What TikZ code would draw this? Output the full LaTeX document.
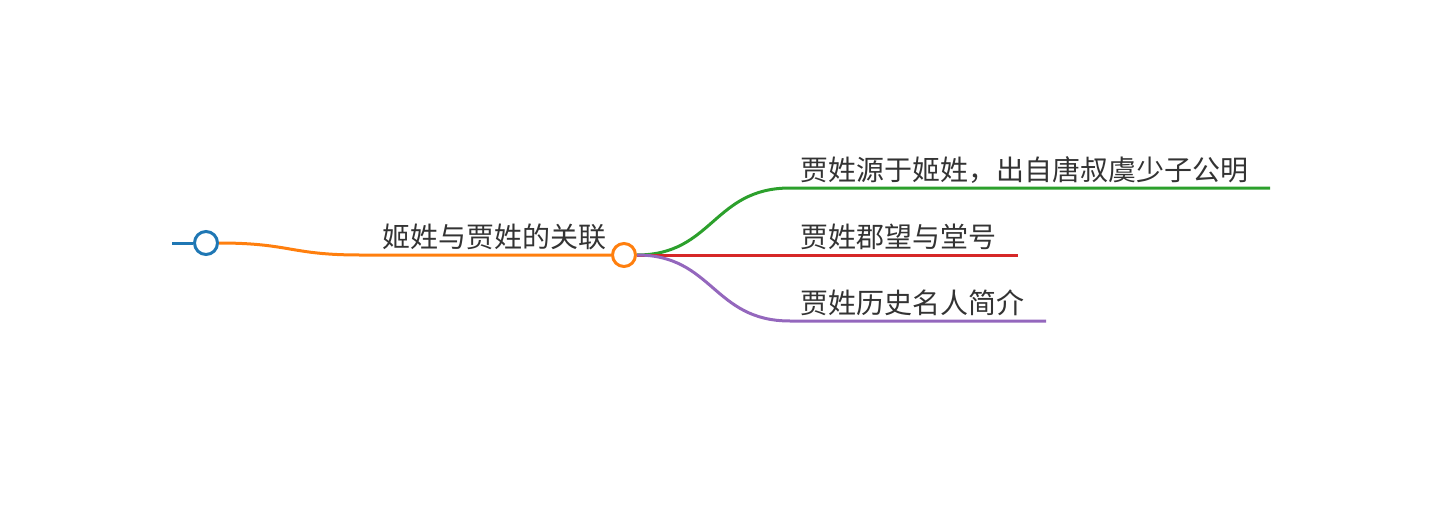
\documentclass[tikz,border=0pt]{standalone}
\usepackage{fontspec}
\setmainfont{Noto Sans CJK SC}
\definecolor{mmblue}{HTML}{1F77B4}
\definecolor{mmorange}{HTML}{FF7F0E}
\definecolor{mmgreen}{HTML}{2CA02C}
\definecolor{mmred}{HTML}{D62728}
\definecolor{mmpurple}{HTML}{9467BD}
\definecolor{inkgray}{HTML}{333333}
\begin{document}
\begin{tikzpicture}[x=1pt,y=-1pt,
  branch/.style={line width=3pt},
  knob/.style={circle,draw,fill=white,line width=3pt,minimum size=23pt,inner sep=0pt},
  caption/.style={anchor=west,inner sep=0pt,text=inkgray,font=\fontsize{28pt}{32pt}\selectfont}]
  \useasboundingbox (0,0) rectangle (1440,511);

  \node[knob,draw=mmblue] (rootknob) at (206,243) {};
  \node[knob,draw=mmorange] (mainknob) at (624,255) {};
  \coordinate (stub) at (172,243);
  \coordinate (mainbend) at (360,255);
  \node[caption] (main) at (382,237) {姬姓与贾姓的关联};

  \draw[branch,mmblue] (stub) -- (rootknob.west);
  \draw[branch,mmorange] (rootknob.east) .. controls (290,243) and (290,255) .. (mainbend) -- (mainknob.west);

  \foreach \name/\col/\y/\xend/\txt in {origin/mmgreen/188/1270/贾姓源于姬姓，出自唐叔虞少子公明,
      hall/mmred/255/1018/贾姓郡望与堂号,
      people/mmpurple/321/1046/贾姓历史名人简介} {
    \coordinate (\name-bend) at (790,\y);
    \coordinate (\name-end) at (\xend,\y);
    \node[caption] (\name) at (800,\y-18) {\txt};
    \draw[branch,\col] (mainknob.east) .. controls (713,255) and (713,\y) .. (\name-bend) -- (\name-end);
  }
\end{tikzpicture}
\end{document}
